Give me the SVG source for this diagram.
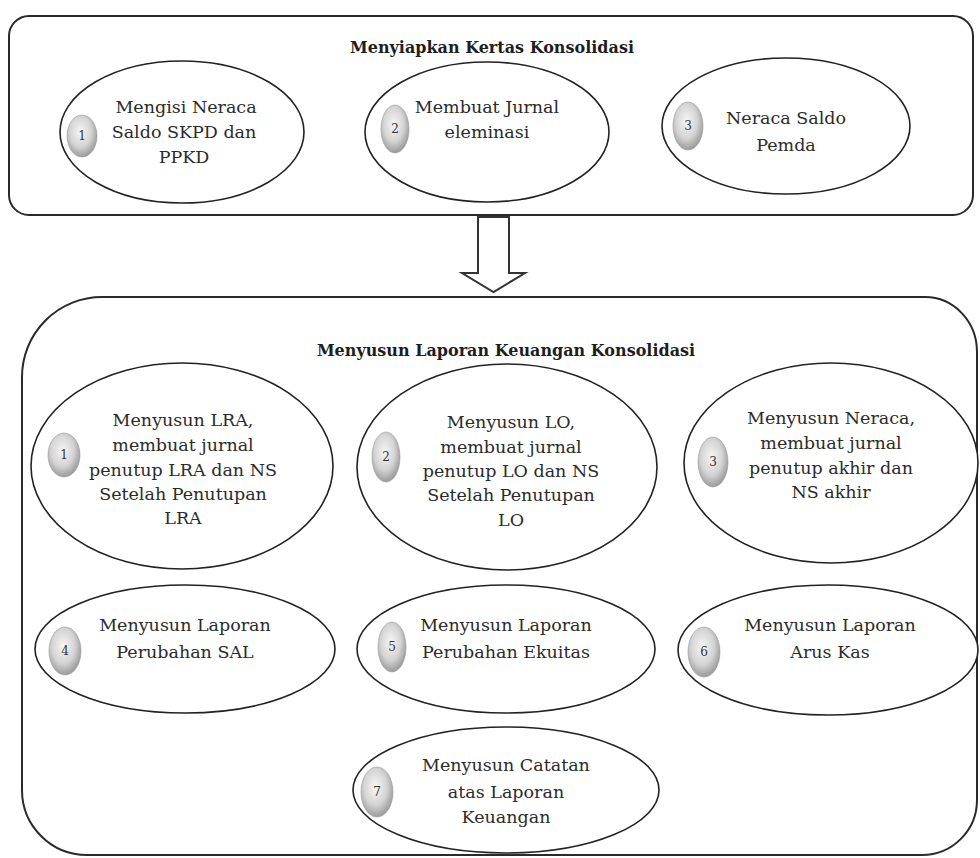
<svg xmlns="http://www.w3.org/2000/svg" width="980" height="858" viewBox="0 0 980 858">
<defs>
<radialGradient id="ball" cx="0.45" cy="0.4" r="0.65">
<stop offset="0" stop-color="#f6f6f6"/>
<stop offset="0.55" stop-color="#d4d4d4"/>
<stop offset="1" stop-color="#8f8f8f"/>
</radialGradient>
<style>
.frame{fill:none;stroke:#2a2a2a;stroke-width:2}
.ell{fill:#fff;stroke:#222;stroke-width:1.6}
.badge{fill:url(#ball);stroke:#9a9a9a;stroke-width:0.6}
.num{font-family:"DejaVu Serif","Liberation Serif",serif;font-size:12px;fill:#333;text-anchor:middle}
.t{font-family:"DejaVu Serif","Liberation Serif",serif;font-size:17.5px;fill:#2b2b2b;text-anchor:middle}
.title{font-family:"DejaVu Serif","Liberation Serif",serif;font-size:16px;font-weight:bold;fill:#1e1e1e;text-anchor:middle}
.arrow{fill:#fff;stroke:#333;stroke-width:2;stroke-linejoin:miter}
</style>
</defs>
<rect width="980" height="858" fill="#fff"/>

<g id="top-box">
<rect class="frame" x="9" y="16" width="964" height="199" rx="20" ry="20"/>
<text class="title" x="492" y="53">Menyiapkan Kertas Konsolidasi</text>
</g>

<g id="t1">
<ellipse class="ell" cx="182" cy="132" rx="122" ry="71"/>
<ellipse class="badge" cx="82" cy="136" rx="15" ry="21"/>
<text class="num" x="82" y="140">1</text>
<text class="t" x="186" y="113">Mengisi Neraca</text>
<text class="t" x="184" y="138">Saldo SKPD dan</text>
<text class="t" x="184" y="163">PPKD</text>
</g>

<g id="t2">
<ellipse class="ell" cx="487" cy="132" rx="122" ry="70"/>
<ellipse class="badge" cx="395" cy="129" rx="14" ry="24"/>
<text class="num" x="395" y="133">2</text>
<text class="t" x="487" y="113">Membuat Jurnal</text>
<text class="t" x="487" y="138">eleminasi</text>
</g>

<g id="t3">
<ellipse class="ell" cx="786" cy="126" rx="124" ry="68"/>
<ellipse class="badge" cx="688" cy="126" rx="15" ry="24"/>
<text class="num" x="688" y="130">3</text>
<text class="t" x="786" y="124">Neraca Saldo</text>
<text class="t" x="786" y="151">Pemda</text>
</g>

<g id="connectors">
<polygon class="arrow" points="478,217 509,217 509,273 525,273 493.5,292 462,273 478,273"/>
</g>

<g id="bottom-box">
<path class="frame" d="M 102 297 L 925 297 A 52 55 0 0 1 977 352 L 977 800 A 55 55 0 0 1 922 855 L 87 855 A 65 65 0 0 1 22 790 L 22 377 A 80 80 0 0 1 102 297 Z"/>
<text class="title" x="506" y="356">Menyusun Laporan Keuangan Konsolidasi</text>
</g>

<g id="b1">
<ellipse class="ell" cx="182" cy="466" rx="151" ry="103"/>
<ellipse class="badge" cx="64" cy="455" rx="16" ry="22"/>
<text class="num" x="64" y="459">1</text>
<text class="t" x="183" y="426">Menyusun LRA,</text>
<text class="t" x="183" y="451">membuat jurnal</text>
<text class="t" x="183" y="476">penutup LRA dan NS</text>
<text class="t" x="183" y="500">Setelah Penutupan</text>
<text class="t" x="183" y="524">LRA</text>
</g>

<g id="b2">
<ellipse class="ell" cx="507" cy="467" rx="150" ry="103"/>
<ellipse class="badge" cx="386" cy="457" rx="14" ry="25"/>
<text class="num" x="386" y="461">2</text>
<text class="t" x="511" y="428">Menyusun LO,</text>
<text class="t" x="511" y="453">membuat jurnal</text>
<text class="t" x="511" y="477">penutup LO dan NS</text>
<text class="t" x="511" y="501">Setelah Penutupan</text>
<text class="t" x="511" y="526">LO</text>
</g>

<g id="b3">
<ellipse class="ell" cx="831" cy="463" rx="147" ry="100"/>
<ellipse class="badge" cx="713" cy="462" rx="15" ry="25"/>
<text class="num" x="713" y="466">3</text>
<text class="t" x="831" y="424">Menyusun Neraca,</text>
<text class="t" x="831" y="449">membuat jurnal</text>
<text class="t" x="831" y="474">penutup akhir dan</text>
<text class="t" x="831" y="498">NS akhir</text>
</g>

<g id="b4">
<ellipse class="ell" cx="185" cy="649" rx="150" ry="64"/>
<ellipse class="badge" cx="65" cy="651" rx="16" ry="24"/>
<text class="num" x="65" y="655">4</text>
<text class="t" x="185" y="631">Menyusun Laporan</text>
<text class="t" x="185" y="658">Perubahan SAL</text>
</g>

<g id="b5">
<ellipse class="ell" cx="506" cy="649" rx="149" ry="64"/>
<ellipse class="badge" cx="392" cy="647" rx="14" ry="25"/>
<text class="num" x="392" y="651">5</text>
<text class="t" x="506" y="631">Menyusun Laporan</text>
<text class="t" x="506" y="658">Perubahan Ekuitas</text>
</g>

<g id="b6">
<ellipse class="ell" cx="828" cy="650" rx="150" ry="65"/>
<ellipse class="badge" cx="704" cy="652" rx="16" ry="25"/>
<text class="num" x="704" y="656">6</text>
<text class="t" x="830" y="631">Menyusun Laporan</text>
<text class="t" x="830" y="658">Arus Kas</text>
</g>

<g id="b7">
<ellipse class="ell" cx="506" cy="790" rx="153" ry="63"/>
<ellipse class="badge" cx="377" cy="792" rx="16" ry="25"/>
<text class="num" x="377" y="796">7</text>
<text class="t" x="506" y="771">Menyusun Catatan</text>
<text class="t" x="506" y="798">atas Laporan</text>
<text class="t" x="506" y="823">Keuangan</text>
</g>
</svg>
